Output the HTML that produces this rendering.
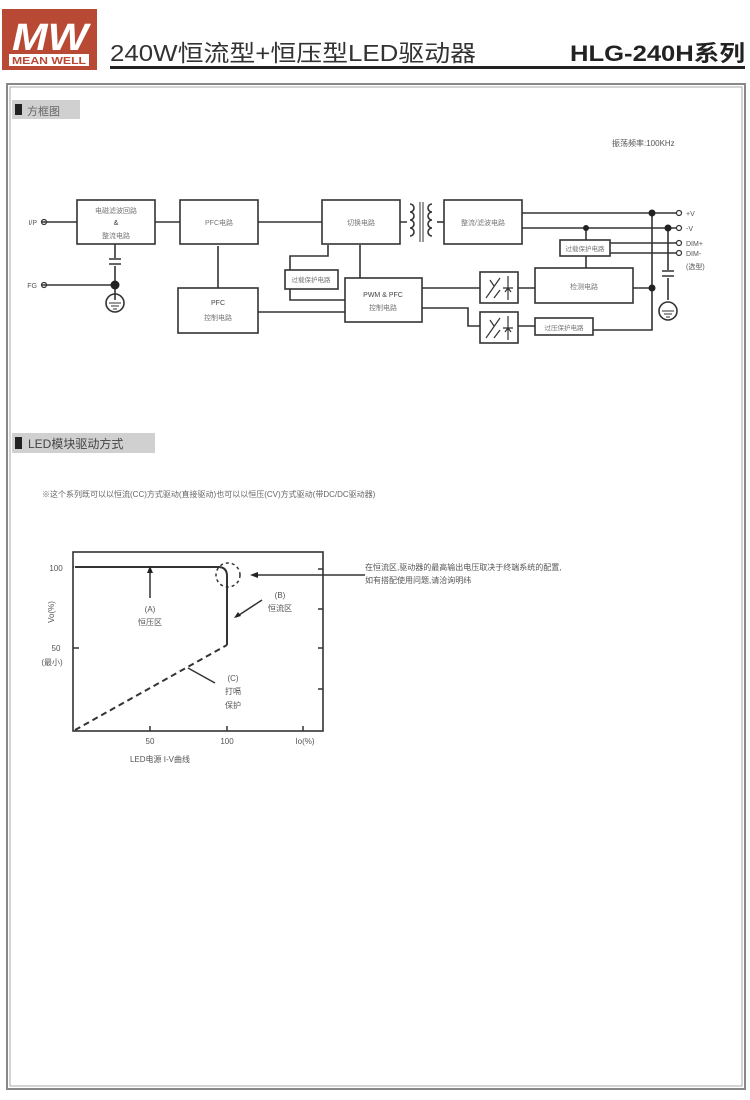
<!DOCTYPE html>
<html><head><meta charset="utf-8"><style>
body{margin:0;width:750px;height:1095px;background:#fff;overflow:hidden}
svg text{font-family:"Liberation Sans","Noto Sans CJK SC",sans-serif}
</style></head><body>
<svg width="750" height="1095" viewBox="0 0 750 1095" xmlns="http://www.w3.org/2000/svg">
<!-- logo -->
<rect x="2" y="9" width="95" height="61" fill="#b84a35"/>
<text x="50" y="50" font-size="38" font-style="italic" fill="#fff" text-anchor="middle" font-weight="bold" textLength="76" lengthAdjust="spacingAndGlyphs">MW</text>
<rect x="9" y="54" width="80" height="12" fill="#fff"/>
<text x="49" y="64" font-size="10" font-weight="bold" fill="#b84a35" text-anchor="middle" textLength="74" lengthAdjust="spacingAndGlyphs">MEAN WELL</text>
<!-- title -->
<text x="110" y="61" font-size="23" fill="#333" textLength="366" lengthAdjust="spacingAndGlyphs">240W恒流型+恒压型LED驱动器</text>
<text x="745" y="61" font-size="22" font-weight="bold" fill="#222" text-anchor="end" textLength="175" lengthAdjust="spacingAndGlyphs">HLG-240H系列</text>
<rect x="110" y="66" width="635" height="3" fill="#222"/>
<!-- frame -->
<rect x="7" y="84" width="738" height="1005" fill="none" stroke="#888" stroke-width="2"/>
<rect x="10" y="87" width="732" height="999" fill="none" stroke="#aaa" stroke-width="1"/>
<!-- section 1 -->
<rect x="12" y="100" width="68" height="19" fill="#d0d0d0"/>
<rect x="15" y="104" width="7" height="11" fill="#222"/>
<text x="27" y="115" font-size="11" fill="#666">方框图</text>
<text x="612" y="146" font-size="8" fill="#555">振荡频率:100KHz</text>
<g fill="none" stroke="#333" stroke-width="1.6">
<rect x="77" y="200" width="78" height="44"/>
<rect x="180" y="200" width="78" height="44"/>
<rect x="322" y="200" width="78" height="44"/>
<rect x="444" y="200" width="78" height="44"/>
<rect x="178" y="288" width="80" height="45"/>
<rect x="285" y="270" width="53" height="19"/>
<rect x="345" y="278" width="77" height="44"/>
<rect x="480" y="272" width="38" height="31"/>
<rect x="480" y="312" width="38" height="31"/>
<rect x="535" y="268" width="98" height="35"/>
<rect x="560" y="240" width="50" height="16"/>
<rect x="535" y="318" width="58" height="17"/>
<!-- wires -->
<path d="M42 222H77 M155 222H180 M258 222H322 M400 222H407"/>
<path d="M42 285H115 M115 244V258 M115 266V300"/>
<path d="M218 288V246"/>
<path d="M258 312H345"/>
<path d="M360 245V278"/>
<path d="M328 245V256H290V270 M290 289V300H345"/>
<path d="M522 213H676 M522 228H676 M610 243H676 M610 253H676"/>
<path d="M586 228V240 M586 256V268"/>
<path d="M652 213V330H593 M633 288H652"/>
<path d="M668 228V270 M668 278V300"/>
<path d="M422 288H480 M422 308H468V326H480 M518 288H535 M518 326H535"/>
<path d="M437 222H444"/>
<!-- transformer -->
<path d="M410 204a4 4 0 0 1 0 8a4 4 0 0 1 0 8a4 4 0 0 1 0 8a4 4 0 0 1 0 8"/>
<path d="M432 204a4 4 0 0 0 0 8a4 4 0 0 0 0 8a4 4 0 0 0 0 8a4 4 0 0 0 0 8"/>
<path d="M420 202V242 M423 202V242" stroke-width="1"/>
<!-- caps -->
<path d="M109 259H121 M109 264H121 M662 271H674 M662 276H674"/>
<circle cx="115" cy="303" r="9"/><circle cx="668" cy="311" r="9"/>
<path d="M109 303H121 M111 306H119 M113 309H117 M662 311H674 M664 314H672 M666 317H670" stroke-width="1"/>
<!-- opto -->
<path d="M486 298L500 278 M490 280l4 6 M494 298l6-8 M508 276V300 M503 288h10 M505 292l3-4 3 4" stroke-width="1.2"/>
<path d="M486 338L500 318 M490 320l4 6 M494 338l6-8 M508 316V340 M503 328h10 M505 332l3-4 3 4" stroke-width="1.2"/>
</g>
<g fill="none" stroke="#333" stroke-width="1.2">
<circle cx="44" cy="222" r="2.5"/><circle cx="44" cy="285" r="2.5"/>
<circle cx="679" cy="213" r="2.5"/><circle cx="679" cy="228" r="2.5"/><circle cx="679" cy="243" r="2.5"/><circle cx="679" cy="253" r="2.5"/>
</g>
<g fill="#222"><circle cx="115" cy="285" r="4.5"/><circle cx="652" cy="213" r="3.5"/><circle cx="668" cy="228" r="3.5"/><circle cx="586" cy="228" r="3"/><circle cx="652" cy="288" r="3.5"/></g>
<g font-size="7" fill="#777" text-anchor="middle">
<text x="116" y="213">电磁滤波回路</text><text x="116" y="225" fill="#333">&amp;</text><text x="116" y="238">整流电路</text>
<text x="219" y="225">PFC电路</text>
<text x="361" y="225">切换电路</text>
<text x="483" y="225">整流/滤波电路</text>
<text x="218" y="305" fill="#444">PFC</text><text x="218" y="320">控制电路</text>
<text x="311" y="282" font-size="6.5">过载保护电路</text>
<text x="383" y="297" fill="#444">PWM &amp; PFC</text><text x="383" y="310">控制电路</text>
<text x="584" y="289">检测电路</text>
<text x="585" y="251" font-size="6.5">过载保护电路</text>
<text x="564" y="330" font-size="6.5">过压保护电路</text>
</g>
<g font-size="7" fill="#555">
<text x="37" y="225" text-anchor="end">I/P</text><text x="37" y="288" text-anchor="end">FG</text>
<text x="686" y="216">+V</text><text x="686" y="231">-V</text><text x="686" y="246">DIM+</text><text x="686" y="256">DIM-</text><text x="686" y="269">(选型)</text>
</g>
<!-- section 2 -->
<rect x="12" y="433" width="143" height="20" fill="#d0d0d0"/>
<rect x="15" y="437" width="7" height="12" fill="#222"/>
<text x="28" y="448" font-size="12" fill="#444">LED模块驱动方式</text>
<text x="42" y="497" font-size="8" fill="#666">※这个系列既可以以恒流(CC)方式驱动(直接驱动)也可以以恒压(CV)方式驱动(带DC/DC驱动器)</text>
<!-- chart -->
<rect x="73" y="552" width="250" height="179" fill="none" stroke="#333" stroke-width="1.6"/>
<g stroke="#333" stroke-width="1.5" fill="none">
<path d="M73 567H74 M318 569H323 M318 609H323 M318 648H323 M318 689H323 M73 648H79 M150 726V731 M227 726V731 M303 726V731"/>
<path d="M75 567H218Q227 567 227 576V645" stroke-width="2"/>
<path d="M75 730L227 645" stroke-dasharray="6,4" stroke-width="2"/>
<circle cx="228" cy="575" r="12" stroke-dasharray="3,3"/>
<path d="M365 575H255"/><path d="M150 598V569"/><path d="M262 600L236 617"/><path d="M188 668L215 683"/>
</g>
<g fill="#222"><path d="M250 575l8-3v6z"/><path d="M150 566l-3 7h6z"/><path d="M234 618l4-6 3 4z"/></g>
<g font-size="8" fill="#555" text-anchor="middle">
<text x="56" y="571">100</text><text x="56" y="651">50</text><text x="52" y="665">(最小)</text>
<text x="150" y="744">50</text><text x="227" y="744">100</text><text x="305" y="744">Io(%)</text>
<text x="150" y="612">(A)</text><text x="150" y="625">恒压区</text>
<text x="280" y="598">(B)</text><text x="280" y="611">恒流区</text>
<text x="233" y="681">(C)</text><text x="233" y="694">打嗝</text><text x="233" y="708">保护</text>
<text x="160" y="762">LED电源 I-V曲线</text>
<text transform="translate(54,612) rotate(-90)">Vo(%)</text>
</g>
<text x="365" y="570" font-size="8" fill="#555">在恒流区,驱动器的最高输出电压取决于终端系统的配置,</text>
<text x="365" y="583" font-size="8" fill="#555">如有搭配使用问题,请洽询明纬</text>
</svg>
</body></html>
